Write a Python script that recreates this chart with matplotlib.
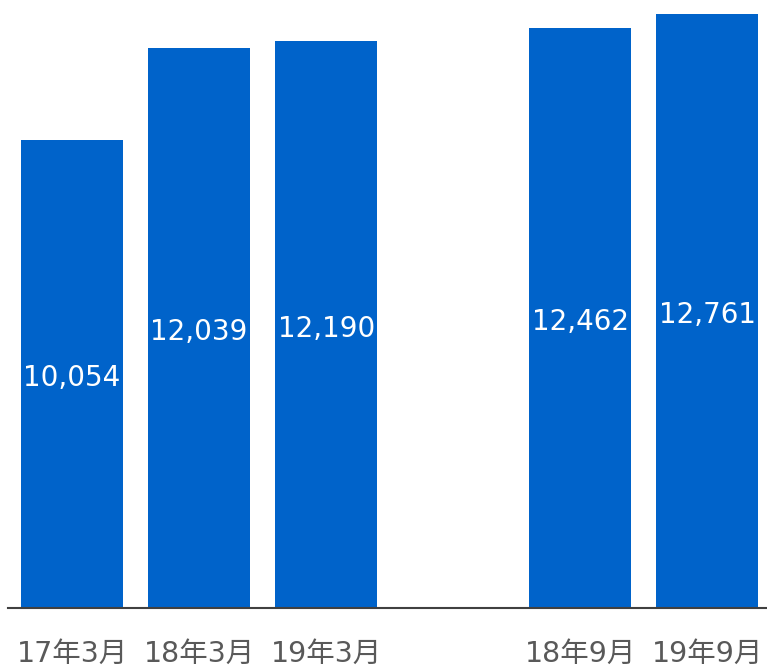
import matplotlib.pyplot as plt

# DejaVu for the Latin digits (close to Meiryo), Noto CJK for 年/月
plt.rcParams['font.family'] = ['DejaVu Sans', 'Noto Sans CJK JP']

# empty slot between the March and September groups
categories = ['17年3月', '18年3月', '19年3月', '', '18年9月', '19年9月']
values = [10054, 12039, 12190, None, 12462, 12761]

bar_color = '#0063CA'

fig = plt.figure(figsize=(7.67, 6.71), dpi=100)
ax = fig.add_axes([8 / 767, 63 / 671, 759 / 767, 605 / 671])

xs = [i for i, v in enumerate(values) if v is not None]
vs = [v for v in values if v is not None]
bars = ax.bar(xs, vs, width=0.8, color=bar_color)

for b, v in zip(bars, vs):
    ax.annotate(f'{v:,}', (b.get_x() + b.get_width() / 2, v / 2),
                xytext=(0, -3), textcoords='offset points',
                ha='center', va='center', color='white', fontsize=20)

ax.set_xlim(-0.504, 5.47)
ax.set_ylim(0, 13000)
ax.set_xticks(range(len(categories)))
ax.set_xticklabels(categories, fontsize=20.5, color='#595959')
ax.tick_params(axis='x', length=0, pad=23)
ax.set_yticks([])

for s in ['top', 'right', 'left']:
    ax.spines[s].set_visible(False)
ax.spines['bottom'].set_color('#404040')
ax.spines['bottom'].set_linewidth(1.5)

fig.savefig('out.png', dpi=100)
